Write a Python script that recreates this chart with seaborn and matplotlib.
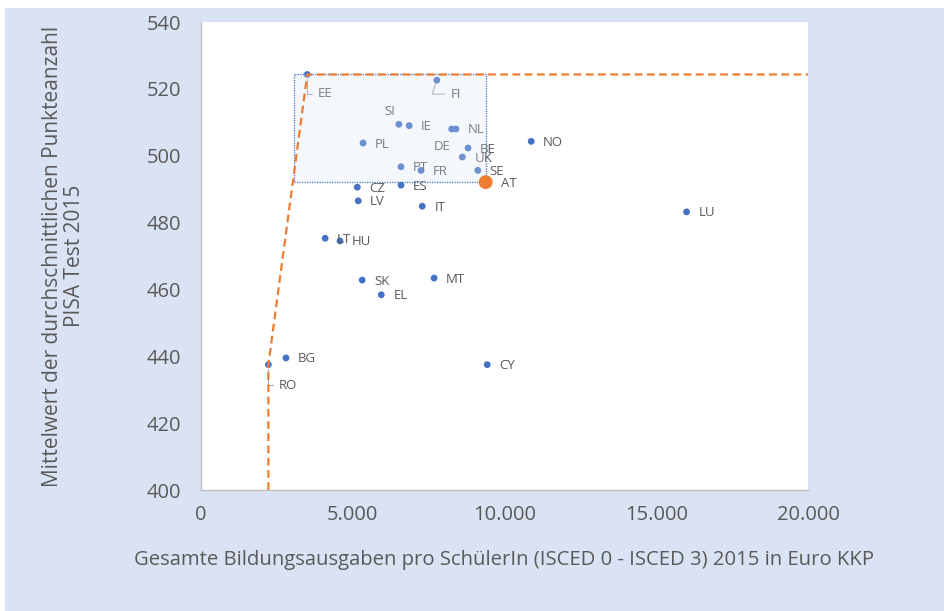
import matplotlib
matplotlib.use("Agg")
import matplotlib.pyplot as plt
import matplotlib.patches as patches
import matplotlib.ticker as mticker
import pandas as pd
import seaborn as sns

# --- DATA ---
countries = ["EE", "FI", "SI", "IE", "NL", "DE", "PL", "BE", "UK", "PT", "FR", "SE", "AT",
             "CZ", "ES", "LV", "IT", "NO", "LU", "LT", "HU", "SK", "MT", "EL", "BG", "RO", "CY"]
spending = [3500, 7770, 6520, 6860, 8400, 8260, 5340, 8800, 8610, 6590, 7250, 9120, 9380,
            5150, 6590, 5180, 7290, 10880, 16000, 4090, 4580, 5310, 7680, 5940, 2800, 2220, 9430]
pisa = [524.3, 522.6, 509.4, 509.0, 508.0, 508.0, 503.8, 502.3, 499.6, 496.7, 495.6, 495.6, 492.1,
        490.6, 491.2, 486.5, 484.9, 504.3, 483.2, 475.3, 474.5, 462.8, 463.4, 458.4, 439.5, 437.5, 437.5]

x_ticks = [0, 5000, 10000, 15000, 20000]
y_ticks = [400, 420, 440, 460, 480, 500, 520, 540]
highlight = "AT"
box_left = 3050

df = pd.DataFrame({"land": countries, "ausgaben": spending, "pisa": pisa})

DPI = 100
BLUE = "#4472C4"
ORANGE = "#ED7D31"
TEXT = "#595959"
BG = "#DAE3F3"

sns.set_theme(style="white")
plt.rcParams["font.family"] = ["Open Sans", "DejaVu Sans"]

fig = plt.figure(figsize=(9.44, 6.11), dpi=DPI, facecolor="white")
fig.patches.append(patches.Rectangle((5 / 944, 0), 1, 1 - 8 / 611, transform=fig.transFigure,
                                     facecolor=BG, edgecolor="none", zorder=-10))
ax = fig.add_axes([201 / 944, 121 / 611, 607 / 944, 468 / 611])
ax.set_facecolor("white")

# blue points
others = df[df["land"] != highlight]
sns.scatterplot(data=others, x="ausgaben", y="pisa", color=BLUE, s=24, edgecolor="none",
                ax=ax, zorder=2, legend=False)

# highlighted country
hl = df[df["land"] == highlight]
sns.scatterplot(data=hl, x="ausgaben", y="pisa", color=ORANGE, s=100, edgecolor="none",
                ax=ax, zorder=6, legend=False)

# efficiency frontier: RO -> EE -> right edge
ro = df[df["land"] == "RO"].iloc[0]
ee = df[df["land"] == "EE"].iloc[0]
at = hl.iloc[0]
ax.plot([ro.ausgaben, ro.ausgaben, ee.ausgaben, x_ticks[-1]],
        [y_ticks[0], ro.pisa, ee.pisa, ee.pisa],
        color=ORANGE, lw=1.6, ls=(0, (3.5, 2)), zorder=5)

# shaded box between AT and the frontier
ax.add_patch(patches.Rectangle((box_left, at.pisa), at.ausgaben - box_left, ee.pisa - at.pisa,
                               facecolor=BG, alpha=0.27, edgecolor="none", zorder=4))
ax.add_patch(patches.Rectangle((box_left, at.pisa), at.ausgaben - box_left, ee.pisa - at.pisa,
                               facecolor="none", edgecolor=BLUE, lw=0.9, ls=(0, (1, 1)), zorder=4))

# labels: offsets in pixels (dx right, dy down)
special = {
    "EE": (10.5, 19.5, "left"),
    "FI": (14, 14, "left"),
    "SI": (-4, -12.5, "right"),
    "DE": (-1, 18, "right"),
    "AT": (15, 1.5, "left"),
    "RO": (10.5, 20.5, "left"),
}
leaders = {"EE": 90, "RO": 90, "FI": 72}

for land, xv, yv in zip(countries, spending, pisa):
    dx, dy, ha = special.get(land, (12, 1, "left"))
    kw = {}
    if land in leaders:
        kw["arrowprops"] = dict(arrowstyle="-", color="#A6A6A6", lw=0.8,
                                connectionstyle=f"angle,angleA=0,angleB={leaders[land]},rad=0",
                                relpos=(0, 0.5), shrinkA=2, shrinkB=3)
    ax.annotate(land, (xv, yv), xytext=(dx * 72 / DPI, -dy * 72 / DPI),
                textcoords="offset points", ha=ha, va="center", fontsize=9.5,
                color=TEXT, zorder=3, **kw)

ax.set_xlim(x_ticks[0], x_ticks[-1])
ax.set_ylim(y_ticks[0], y_ticks[-1])
ax.set_xticks(x_ticks)
ax.set_yticks(y_ticks)
ax.xaxis.set_major_formatter(mticker.FuncFormatter(lambda v, p: f"{int(v):,}".replace(",", ".")))
ax.tick_params(length=0, labelsize=14.5, colors=TEXT)
ax.tick_params(axis="x", pad=11)
ax.tick_params(axis="y", pad=14)

for side in ["top", "right"]:
    ax.spines[side].set_visible(False)
for side in ["left", "bottom"]:
    ax.spines[side].set_color("#BFBFBF")
    ax.spines[side].set_linewidth(1)

ax.set_xlabel("Gesamte Bildungsausgaben pro SchülerIn (ISCED 0 - ISCED 3) 2015 in Euro KKP",
              fontsize=14.6, color=TEXT, labelpad=18)
ax.set_ylabel("Mittelwert der durchschnittlichen Punkteanzahl\nPISA Test 2015",
              fontsize=15, color=TEXT, labelpad=45, linespacing=1.05)

fig.savefig("out.png", dpi=DPI, facecolor=fig.get_facecolor())
